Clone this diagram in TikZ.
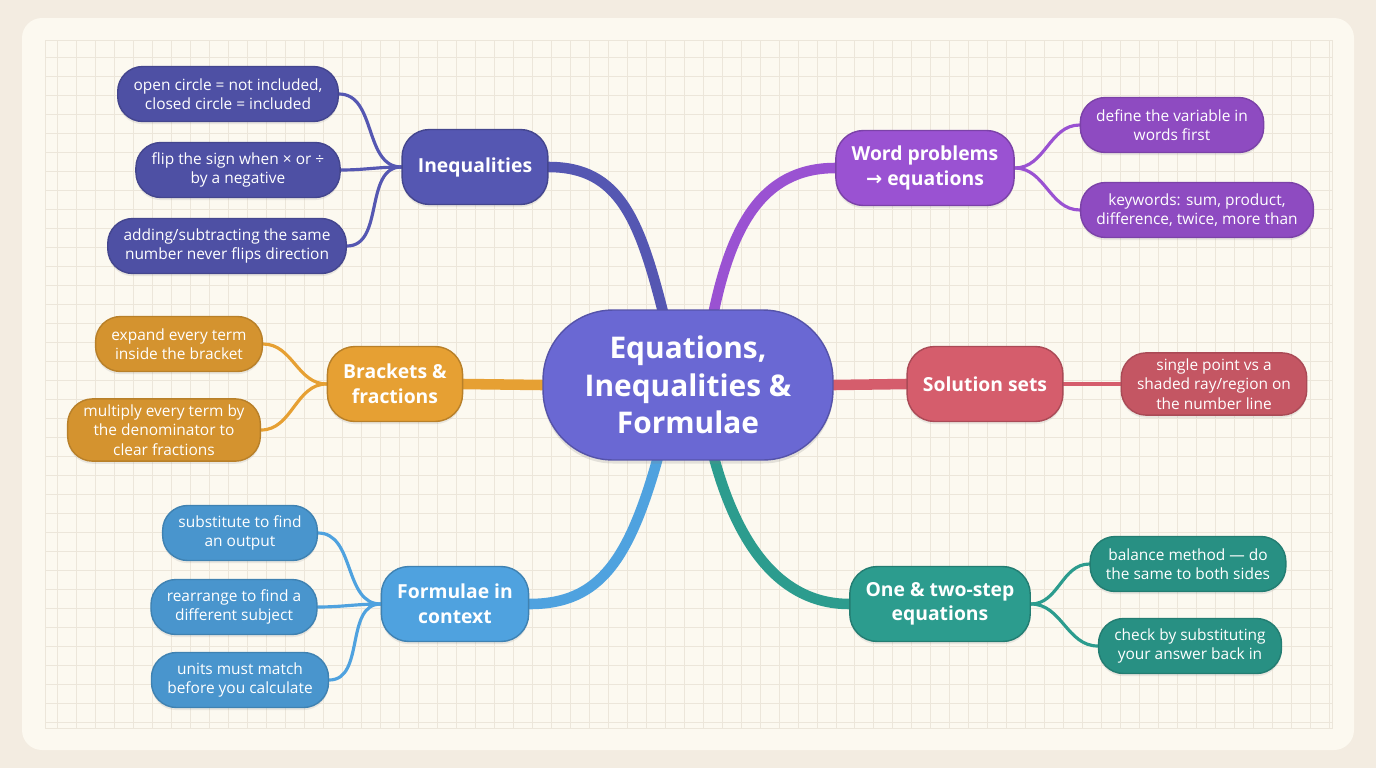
\documentclass[tikz,border=0pt]{standalone}
\usepackage{fontspec}
\setmainfont{Open Sans}
\newfontfamily\symfont{DejaVu Sans}
\usetikzlibrary{shadows}
\definecolor{pagebg}{HTML}{F3ECE1}
\definecolor{cardbg}{HTML}{FCF9F0}
\definecolor{gridc}{HTML}{ECE6DA}
\definecolor{ineqc}{HTML}{5557B2}
\definecolor{wordc}{HTML}{9A52D2}
\definecolor{brackc}{HTML}{E6A033}
\definecolor{solc}{HTML}{D55D6C}
\definecolor{formc}{HTML}{4FA2DF}
\definecolor{stepc}{HTML}{2C9C8E}
\definecolor{centc}{HTML}{6A68D3}
\pgfdeclarelayer{bg}
\pgfdeclarelayer{lines}
\pgfsetlayers{bg,lines,main}
\begin{document}
\begin{tikzpicture}[x=0.02cm, y=-0.02cm,
  topic/.style={draw=#1!80!black, fill=#1, text=white, rounded corners=0.55cm, line width=0.8pt,
    font=\bfseries\fontsize{11}{14}\selectfont, align=center, inner xsep=9pt, minimum height=1.5cm,
    drop shadow={opacity=0.15, shadow xshift=0pt, shadow yshift=-1.5pt}},
  leaf/.style={draw=#1!80!black, fill=#1!92!black, text=white, rounded corners=0.5cm, line width=0.8pt,
    font=\fontsize{8.8}{11}\selectfont, align=center, inner xsep=9pt, minimum height=1.1cm,
    drop shadow={opacity=0.15, shadow xshift=0pt, shadow yshift=-1.5pt}},
  trunk/.style={draw=#1, line width=6pt, line cap=round},
  twig/.style={draw=#1, line width=1.8pt, line cap=round}]
% background
\begin{pgfonlayer}{bg}
  \fill[pagebg] (0,0) rectangle (1376,768);
  \fill[cardbg, rounded corners=0.4cm] (22,18) rectangle (1354,750);
  \draw[gridc, line width=0.4pt, step=0.38cm] (45,40) grid (1332,728);
  \draw[gridc] (45,40) rectangle (1332,728);
\end{pgfonlayer}
% center
\node[fill=centc, draw=centc!80!black, line width=0.8pt, text=white, rounded corners=1.4cm,
  minimum width=5.8cm, minimum height=3cm, align=center,
  font=\bfseries\fontsize{17}{21.5}\selectfont,
  drop shadow={opacity=0.2, shadow xshift=0pt, shadow yshift=-2pt}] (eq) at (688,385)
  {Equations,\\Inequalities \&\\Formulae};
% topics
\node[topic=ineqc] (ineq) at (475,167) {Inequalities};
\node[topic=wordc] (word) at (925,168) {Word problems\\{\symfont →} equations};
\node[topic=brackc] (brack) at (395,384) {Brackets \&\\fractions};
\node[topic=solc] (sol) at (985,384) {Solution sets};
\node[topic=formc] (form) at (455,604) {Formulae in\\context};
\node[topic=stepc] (step) at (940,604) {One \& two-step\\equations};
% leaves
\node[leaf=ineqc] (ineq1) at (228,94) {open circle = not included,\\closed circle = included};
\node[leaf=ineqc] (ineq2) at (238,170) {flip the sign when × or ÷\\by a negative};
\node[leaf=ineqc] (ineq3) at (227,246) {adding/subtracting the same\\number never flips direction};
\node[leaf=wordc] (word1) at (1172,125) {define the variable in\\words first};
\node[leaf=wordc] (word2) at (1197,210) {keywords: sum, product,\\difference, twice, more than};
\node[leaf=brackc] (brack1) at (179,344) {expand every term\\inside the bracket};
\node[leaf=brackc] (brack2) at (164,430) {multiply every term by\\the denominator to\\clear fractions};
\node[leaf=solc] (sol1) at (1214,384) {single point vs a\\shaded ray/region on\\the number line};
\node[leaf=formc] (form1) at (240,533) {substitute to find\\an output};
\node[leaf=formc] (form2) at (234,607) {rearrange to find a\\different subject};
\node[leaf=formc] (form3) at (240,680) {units must match\\before you calculate};
\node[leaf=stepc] (step1) at (1188,564) {balance method — do\\the same to both sides};
\node[leaf=stepc] (step2) at (1190,646) {check by substituting\\your answer back in};
% branches
\begin{pgfonlayer}{lines}
  \draw[trunk=ineqc] (665,320) .. controls (640,220) and (620,167) .. (ineq.east);
  \draw[trunk=wordc] (712,320) .. controls (730,230) and (760,168) .. (word.west);
  \draw[trunk=brackc] (eq.west) -- (brack.east);
  \draw[trunk=solc] (eq.east) -- (sol.west);
  \draw[trunk=formc] (660,450) .. controls (630,560) and (600,604) .. (form.east);
  \draw[trunk=stepc] (712,450) .. controls (740,560) and (790,604) .. (step.west);
  \foreach \t in {ineq1,ineq2,ineq3}
    \draw[twig=ineqc] (ineq.west) to[out=180,in=0] (\t.east);
  \foreach \t in {word1,word2}
    \draw[twig=wordc] (word.east) to[out=0,in=180] (\t.west);
  \foreach \t in {brack1,brack2}
    \draw[twig=brackc] (brack.west) to[out=180,in=0] (\t.east);
  \draw[twig=solc] (sol.east) -- (sol1.west);
  \foreach \t in {form1,form2,form3}
    \draw[twig=formc] (form.west) to[out=180,in=0] (\t.east);
  \foreach \t in {step1,step2}
    \draw[twig=stepc] (step.east) to[out=0,in=180] (\t.west);
\end{pgfonlayer}
\end{tikzpicture}
\end{document}
